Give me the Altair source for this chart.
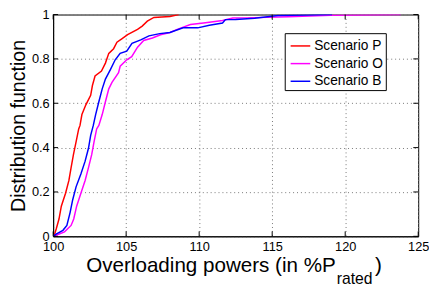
import altair as alt
import pandas as pd

# ---- data ----
p_x = [100.0, 100.1, 100.22, 100.4, 100.56, 100.85, 101.08, 101.23, 101.39, 101.57, 101.75, 101.84,
       101.97, 102.24, 102.57, 102.69, 102.87, 103.31, 103.58, 103.81, 104.14, 104.37, 104.7, 105.1,
       105.78, 106.1, 106.45, 106.9, 108.0, 108.6]
p_y = [0.0, 0.01, 0.035, 0.078, 0.136, 0.194, 0.252, 0.31, 0.368, 0.426, 0.484, 0.5,
       0.549, 0.593, 0.636, 0.68, 0.723, 0.745, 0.781, 0.825, 0.846, 0.875, 0.89, 0.909,
       0.933, 0.948, 0.97, 0.987, 0.991, 1.0]

o_x = [100.0, 100.2, 100.78, 101.23, 101.41, 101.61, 101.9, 102.19, 102.42, 102.64, 102.8, 102.98,
       103.13, 103.36, 103.58, 103.81, 104.03, 104.48, 104.59, 105.04, 105.38, 105.78, 106.2, 106.8,
       107.35, 108.0, 108.5, 109.4, 110.3, 111.6, 112.3, 113.2, 116.1, 119.0, 123.8]
o_y = [0.0, 0.005, 0.02, 0.049, 0.078, 0.136, 0.194, 0.252, 0.31, 0.368, 0.426, 0.484,
       0.5, 0.549, 0.607, 0.665, 0.694, 0.738, 0.767, 0.796, 0.81, 0.853, 0.883, 0.894,
       0.909, 0.919, 0.933, 0.955, 0.962, 0.973, 0.984, 0.985, 0.99, 0.997, 1.0]

b_x = [100.0, 100.2, 100.67, 100.94, 101.16, 101.34, 101.57, 101.9, 102.19, 102.42, 102.57, 102.75,
       102.91, 103.13, 103.36, 103.58, 103.92, 104.25, 104.59, 105.04, 105.4, 106.0, 106.56, 107.3,
       108.0, 108.9, 109.9, 110.7, 111.6, 111.8, 112.5, 113.8, 115.4, 119.1]
b_y = [0.0, 0.01, 0.027, 0.049, 0.107, 0.165, 0.223, 0.281, 0.339, 0.397, 0.455, 0.5,
       0.549, 0.607, 0.665, 0.709, 0.752, 0.796, 0.825, 0.835, 0.87, 0.886, 0.904, 0.914,
       0.919, 0.94, 0.94, 0.952, 0.962, 0.977, 0.978, 0.983, 0.996, 1.0]

series_names = ["Scenario P", "Scenario O", "Scenario B"]
series_colors = ["#ff0000", "#ff00ff", "#0000ff"]
x_ticks = [100, 105, 110, 115, 120, 125]
y_ticks = [0, 0.2, 0.4, 0.6, 0.8, 1.0]

rows = []
for name, xs, ys in zip(series_names, [p_x, o_x, b_x], [p_y, o_y, b_y]):
    for i, (a, b) in enumerate(zip(xs, ys)):
        rows.append({"series": name, "x": a, "y": b, "order": i})
df = pd.DataFrame(rows)

W, H = 372, 226
TOP = 4
FONT = "Liberation Sans"

xscale = alt.Scale(domain=[100, 125], nice=False, zero=False)
yscale = alt.Scale(domain=[0, 1], nice=False)

lines = alt.Chart(df).mark_line(strokeWidth=1.5, clip=True).encode(
    x=alt.X("x:Q", scale=xscale,
            axis=alt.Axis(values=x_ticks, format="d", title=None, grid=True,
                          gridDash=[1, 3], gridColor="#777", tickSize=0,
                          labelPadding=4, labelFontSize=13, labelColor="black",
                          labelFont=FONT, labelFlush=False, domainColor="black")),
    y=alt.Y("y:Q", scale=yscale,
            axis=alt.Axis(values=y_ticks, format="~g", title="Distribution function",
                          grid=True, gridDash=[1, 3], gridColor="#777", tickSize=0,
                          labelPadding=4, labelFontSize=13, labelColor="black",
                          labelFont=FONT, labelFlush=False, titleFont=FONT, titleFontSize=20,
                          titleFontWeight="normal", titleColor="black",
                          titlePadding=3, domainColor="black")),
    color=alt.Color("series:N",
                    scale=alt.Scale(domain=series_names, range=series_colors),
                    legend=alt.Legend(title=None, orient="none", legendX=236, legendY=19,
                                      symbolType="stroke", symbolSize=400,
                                      symbolStrokeWidth=1.5, symbolOffset=3,
                                      labelFontSize=14, labelExpr="datum.label + ' '",
                                      labelFont=FONT, labelColor="black",
                                      strokeColor="black", fillColor="white",
                                      padding=2, rowPadding=-2, labelOffset=3)),
    order="order:Q",
)

xt = pd.DataFrame({"t": x_ticks})
yt = pd.DataFrame({"t": y_ticks})
tick_style = dict(color="black", strokeWidth=1)
xb = alt.Chart(xt).mark_rule(**tick_style).encode(
    x=alt.X("t:Q", scale=xscale), y=alt.value(H), y2=alt.value(H - 5))
xtop = alt.Chart(xt).mark_rule(**tick_style).encode(
    x=alt.X("t:Q", scale=xscale), y=alt.value(0), y2=alt.value(5))
yl = alt.Chart(yt).mark_rule(**tick_style).encode(
    y=alt.Y("t:Q", scale=yscale), x=alt.value(0), x2=alt.value(5))
yr = alt.Chart(yt).mark_rule(**tick_style).encode(
    y=alt.Y("t:Q", scale=yscale), x=alt.value(W), x2=alt.value(W - 5))

# x title, with subscript, placed below the plot
base_y = 274 - 8 - TOP
title_main = alt.Chart(pd.DataFrame({"t": ["Overloading powers (in %P"]})).mark_text(
    align="right", baseline="alphabetic", fontSize=21, font=FONT, color="black"
).encode(text="t:N", x=alt.value(288), y=alt.value(base_y))
title_sub = alt.Chart(pd.DataFrame({"t": ["rated"]})).mark_text(
    align="left", baseline="alphabetic", fontSize=16, font=FONT, color="black"
).encode(text="t:N", x=alt.value(289), y=alt.value(base_y + 13))
title_close = alt.Chart(pd.DataFrame({"t": [")"]})).mark_text(
    align="left", baseline="alphabetic", fontSize=21, font=FONT, color="black"
).encode(text="t:N", x=alt.value(328), y=alt.value(base_y))

chart = alt.layer(lines, xb, xtop, yl, yr, title_main, title_sub, title_close).properties(
    width=W, height=H,
    autosize=alt.AutoSizeParams(type="none"),
    padding={"left": 46, "top": TOP, "right": 11, "bottom": 280 - TOP - H},
    background="white",
).configure_view(stroke="black", strokeWidth=1)

chart.save("out.html", embed_options={"renderer": "svg", "actions": False})
